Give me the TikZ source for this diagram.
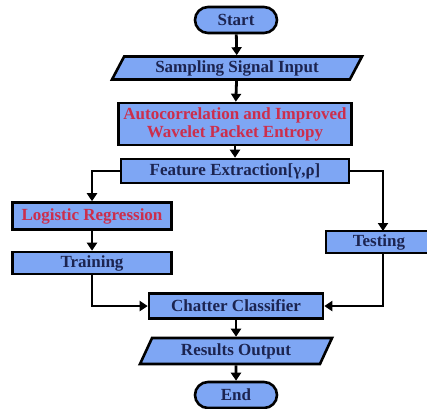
\documentclass[tikz,border=0pt]{standalone}
\usepackage{fontspec}
\setmainfont{Liberation Serif}
\usetikzlibrary{shapes.geometric,shapes.misc,arrows.meta}
\definecolor{boxfill}{RGB}{126,166,244}
\definecolor{txt}{RGB}{28,36,80}
\definecolor{redtxt}{RGB}{204,46,76}
\tikzset{
  base/.style={draw=black, line width=2.6pt, fill=boxfill, text=txt, font=\fontsize{17}{18}\selectfont\bfseries, inner sep=0pt, align=center},
  procbox/.style={base, rectangle},
  term/.style={base, rounded rectangle, minimum width=82pt, minimum height=26pt},
  io/.style={base, trapezium, trapezium left angle=52, trapezium right angle=128, trapezium stretches body},
  conn/.style={line width=2.8pt, -{Triangle[length=8pt,width=10pt]}},
}
\begin{document}
\begin{tikzpicture}[x=1pt,y=-1pt]
\useasboundingbox (0,0) rectangle (427,408);
\clip (0,0) rectangle (427,408);
\node[term] (start) at (236,20) {Start};
\node[io, minimum width=250pt, minimum height=23pt] (samp) at (237,68) {Sampling Signal Input};
\node[procbox, minimum width=233pt, minimum height=42pt, text=redtxt] (auto) at (235,124) {Autocorrelation and Improved\\Wavelet Packet Entropy};
\node[procbox, minimum width=228pt, minimum height=24pt] (feat) at (235,171) {Feature Extraction[γ,ρ]};
\node[procbox, minimum width=159pt, minimum height=27pt, text=redtxt] (logi) at (92,216) {Logistic Regression};
\node[procbox, minimum width=159pt, minimum height=22pt] (train) at (92,263) {Training};
\node[procbox, minimum width=106pt, minimum height=22pt] (test) at (379,242) {Testing};
\node[procbox, minimum width=174pt, minimum height=25pt] (chat) at (236,306) {Chatter Classifier};
\node[io, minimum width=192pt, minimum height=26pt] (res) at (236,351) {Results Output};
\node[term] (end) at (236,395) {End};
\coordinate (lcorner) at (92,171);
\coordinate (rcorner) at (383,171);
\coordinate (testtop) at (383,231);
\coordinate (testbot) at (383,253);
\coordinate (lbot) at (92,306);
\coordinate (rbot) at (383,306);
\draw[conn] (start) -- (samp);
\draw[conn] (samp) -- (auto);
\draw[conn] (auto) -- (feat);
\draw[conn] (feat.west) -- (lcorner) -- (logi.north);
\draw[conn] (logi) -- (train);
\draw[conn] (feat.east) -- (rcorner) -- (testtop);
\draw[conn] (train.south) -- (lbot) -- (chat.west);
\draw[conn] (testbot) -- (rbot) -- (chat.east);
\draw[conn] (chat) -- (res);
\draw[conn] (res) -- (end);
\end{tikzpicture}
\end{document}
